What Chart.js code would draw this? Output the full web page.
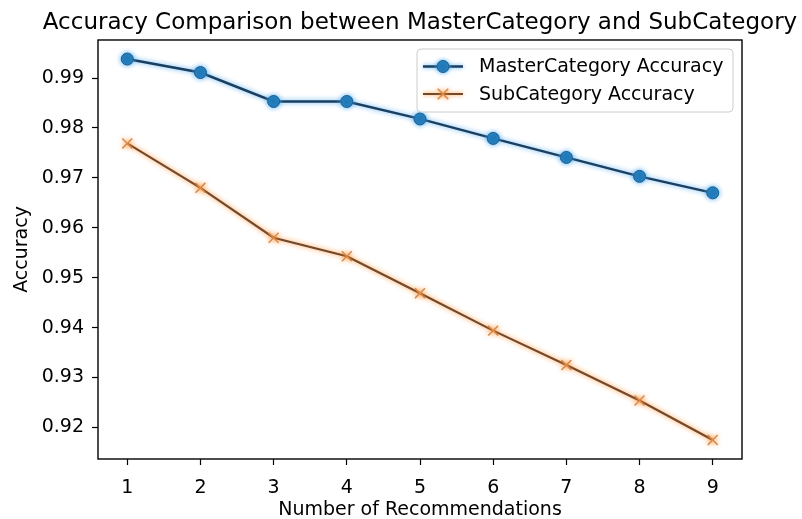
<!DOCTYPE html>
<html>
<head>
<meta charset="utf-8">
<script src="https://cdn.jsdelivr.net/npm/chart.js@4"></script>
<style>
  html, body { margin: 0; padding: 0; background: #ffffff; }
  #wrap { width: 802px; height: 519px; position: relative; }
</style>
</head>
<body>
<div id="wrap"><canvas id="chart" width="802" height="519"></canvas></div>
<script>
// Number of recommendations on the x axis
const recommendations = [1, 2, 3, 4, 5, 6, 7, 8, 9];
// Accuracy per number of recommendations
const masterAccuracy = [0.9938, 0.9911, 0.9853, 0.9853, 0.9818, 0.9779, 0.9741, 0.9703, 0.9670];
const subAccuracy    = [0.9769, 0.9680, 0.9580, 0.9543, 0.9469, 0.9394, 0.9325, 0.9254, 0.9175];
const seriesNames = ['MasterCategory Accuracy', 'SubCategory Accuracy'];
const titleText = 'Accuracy Comparison between MasterCategory and SubCategory';
const xTitle = 'Number of Recommendations';
const yTitle = 'Accuracy';

const FONT = '"DejaVu Sans", sans-serif';
const LABEL_SIZE = 19;
const BLUE = '#1f77b4', BLUE_LINE = '#1a3f60';
const ORANGE_LINE = '#74482a';

// 5% margins around the data, like the plotting default
const all = masterAccuracy.concat(subAccuracy);
const yMin = Math.min(...all), yMax = Math.max(...all);
const yPad = (yMax - yMin) * 0.05;
const xPad = (recommendations[recommendations.length - 1] - recommendations[0]) * 0.05;

const toPoints = (vals) => recommendations.map((x, i) => ({ x, y: vals[i] }));

const glowColors = ['rgba(80,170,240,0.95)', 'rgba(255,140,40,0.95)'];

const framePlugin = {
  id: 'frameAndLabels',
  beforeDatasetDraw(chart, args) {
    const ctx = chart.ctx;
    ctx.save();
    ctx.shadowColor = glowColors[args.index];
    ctx.shadowBlur = 5;
  },
  afterDatasetDraw(chart) {
    chart.ctx.restore();
  },
  afterDraw(chart) {
    const ctx = chart.ctx;
    const a = chart.chartArea;
    ctx.save();
    // axes frame
    ctx.strokeStyle = '#000';
    ctx.lineWidth = 1.4;
    ctx.strokeRect(a.left, a.top, a.right - a.left, a.bottom - a.top);

    // title
    ctx.fillStyle = '#000';
    ctx.font = '23px ' + FONT;
    ctx.textAlign = 'center';
    ctx.textBaseline = 'alphabetic';
    ctx.fillText(titleText, (a.left + a.right) / 2, 29);

    // legend
    const lx = 417, ly = 49, lw = 316, lh = 63;
    ctx.beginPath();
    ctx.roundRect(lx, ly, lw, lh, 4);
    ctx.fillStyle = 'rgba(255,255,255,0.8)';
    ctx.fill();
    ctx.strokeStyle = '#cccccc';
    ctx.lineWidth = 1;
    ctx.stroke();

    const rows = [66.5, 94];
    chart.data.datasets.forEach((ds, i) => {
      const y = rows[i];
      ctx.save();
      ctx.shadowColor = glowColors[i];
      ctx.shadowBlur = 4;
      ctx.strokeStyle = ds.borderColor;
      ctx.lineWidth = ds.borderWidth;
      ctx.beginPath();
      ctx.moveTo(423, y);
      ctx.lineTo(463, y);
      ctx.stroke();
      if (i === 0) {
        ctx.beginPath();
        ctx.arc(443, y, ds.pointRadius, 0, Math.PI * 2);
        ctx.fillStyle = ds.pointBackgroundColor;
        ctx.fill();
        ctx.strokeStyle = ds.pointBorderColor;
        ctx.lineWidth = 1;
        ctx.stroke();
      } else {
        const r = ds.pointRadius * 0.75;
        ctx.strokeStyle = ds.pointBorderColor;
        ctx.lineWidth = ds.pointBorderWidth;
        ctx.beginPath();
        ctx.moveTo(443 - r, y - r); ctx.lineTo(443 + r, y + r);
        ctx.moveTo(443 - r, y + r); ctx.lineTo(443 + r, y - r);
        ctx.stroke();
      }
      ctx.restore();
      ctx.fillStyle = '#000';
      ctx.font = LABEL_SIZE + 'px ' + FONT;
      ctx.textAlign = 'left';
      ctx.textBaseline = 'middle';
      ctx.fillText(ds.label, 479, y + 1);
    });
    ctx.restore();
  }
};

new Chart(document.getElementById('chart'), {
  type: 'line',
  data: {
    datasets: [
      {
        label: seriesNames[0],
        data: toPoints(masterAccuracy),
        borderColor: BLUE_LINE,
        borderWidth: 2.4,
        pointStyle: 'circle',
        pointRadius: 6,
        pointBackgroundColor: BLUE,
        pointBorderColor: '#1a5f92',
        pointBorderWidth: 1,
        tension: 0,
        fill: false
      },
      {
        label: seriesNames[1],
        data: toPoints(subAccuracy),
        borderColor: ORANGE_LINE,
        borderWidth: 2.2,
        pointStyle: 'crossRot',
        pointRadius: 7,
        pointBorderColor: '#d98a4a',
        pointBorderWidth: 1.5,
        tension: 0,
        fill: false
      }
    ]
  },
  options: {
    responsive: false,
    animation: false,
    devicePixelRatio: 1,
    layout: { padding: { left: 0, right: 60, top: 40, bottom: 0 } },
    plugins: {
      legend: { display: false },
      title: { display: false },
      tooltip: { enabled: false }
    },
    scales: {
      x: {
        type: 'linear',
        min: recommendations[0] - xPad,
        max: recommendations[recommendations.length - 1] + xPad,
        grid: { drawOnChartArea: false, drawTicks: true, tickLength: 6, color: '#000', tickWidth: 1.2 },
        border: { display: false },
        ticks: {
          stepSize: 1,
          includeBounds: false,
          color: '#000',
          font: { family: FONT, size: LABEL_SIZE },
          padding: 12,
          maxRotation: 0,
          callback: (v) => Number.isInteger(v) ? String(v) : ''
        },
        title: {
          display: true,
          text: xTitle,
          color: '#000',
          font: { family: FONT, size: LABEL_SIZE },
          padding: { top: 0, bottom: -2 }
        },
        afterFit(scale) { scale.height = 60; }
      },
      y: {
        type: 'linear',
        min: yMin - yPad,
        max: yMax + yPad,
        grid: { drawOnChartArea: false, drawTicks: true, tickLength: 6, color: '#000', tickWidth: 1.2 },
        border: { display: false },
        ticks: {
          stepSize: 0.01,
          includeBounds: false,
          color: '#000',
          font: { family: FONT, size: LABEL_SIZE },
          padding: 8,
          callback: (v) => v.toFixed(2)
        },
        title: {
          display: true,
          text: yTitle,
          color: '#000',
          font: { family: FONT, size: LABEL_SIZE },
          padding: { top: 10.5, bottom: 0 }
        },
        afterFit(scale) { scale.width = 98; }
      }
    }
  },
  plugins: [framePlugin]
});
</script>
</body>
</html>
